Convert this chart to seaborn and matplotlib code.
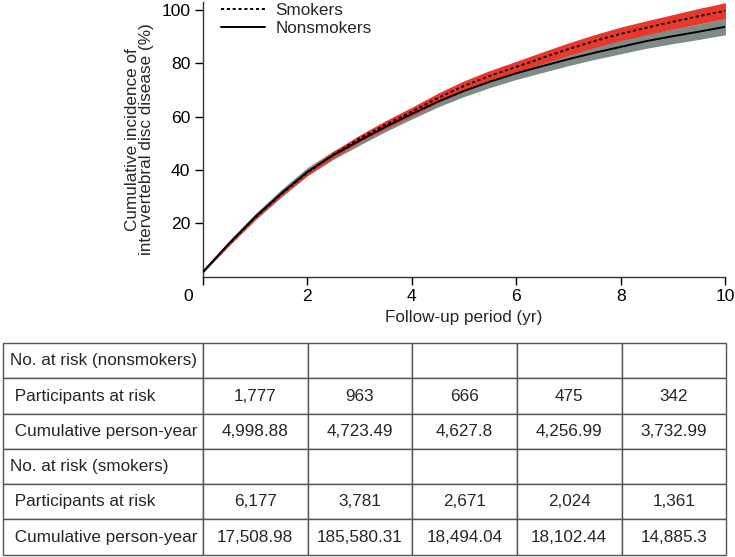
import matplotlib
matplotlib.use("Agg")
import matplotlib.pyplot as plt
import matplotlib.transforms as mtransforms
import pandas as pd
import seaborn as sns

# follow-up time (yr)
years = [0, 0.5, 1, 1.5, 2, 2.5, 3, 3.5, 4, 4.5, 5, 5.5, 6, 6.5, 7, 7.5, 8, 8.5, 9, 9.5, 10]

# cumulative incidence (%)
smokers = [1.8, 12.3, 22.2, 31.0, 39.0, 45.8, 51.8, 57.0, 61.9, 67.0, 71.5,
           75.3, 78.6, 82.0, 85.3, 88.3, 91.0, 93.3, 95.5, 97.6, 99.6]
smokers_lo = [1.5, 11.8, 21.5, 30.2, 38.0, 44.6, 50.5, 55.5, 60.3, 65.2, 69.6,
              73.3, 76.5, 79.8, 83.0, 85.9, 88.5, 90.7, 92.8, 94.7, 96.6]
smokers_hi = [2.1, 12.8, 22.9, 31.8, 40.0, 47.0, 53.1, 58.5, 63.5, 68.8, 73.4,
              77.3, 80.7, 84.2, 87.6, 90.7, 93.5, 95.9, 98.2, 100.5, 102.6]

nonsmokers = [1.8, 12.5, 22.4, 31.2, 39.3, 45.6, 51.0, 56.2, 61.0, 65.6, 69.6,
              73.1, 76.2, 78.9, 81.5, 83.9, 86.1, 88.3, 90.1, 91.8, 93.6]
nonsmokers_lo = [1.5, 11.6, 21.2, 29.8, 37.8, 44.0, 49.3, 54.4, 59.1, 63.6, 67.5,
                 70.9, 73.9, 76.5, 79.1, 81.4, 83.5, 85.6, 87.3, 88.9, 90.6]
nonsmokers_hi = [2.2, 13.4, 23.6, 32.7, 40.9, 47.2, 52.7, 58.0, 62.9, 67.6, 71.7,
                 75.3, 78.5, 81.3, 83.9, 86.4, 88.7, 91.0, 92.9, 94.7, 96.6]

# risk table
row_labels = ["No. at risk (nonsmokers)", " Participants at risk", " Cumulative person-year",
              "No. at risk (smokers)", " Participants at risk", " Cumulative person-year"]
ns_at_risk = ["1,777", "963", "666", "475", "342"]
ns_person_years = ["4,998.88", "4,723.49", "4,627.8", "4,256.99", "3,732.99"]
sm_at_risk = ["6,177", "3,781", "2,671", "2,024", "1,361"]
sm_person_years = ["17,508.98", "185,580.31", "18,494.04", "18,102.44", "14,885.3"]

RED = "#e8372c"
GREY = "#7f8b87"
FS = 12.3

sns.set_style("ticks")
plt.rcParams["font.family"] = ["Liberation Sans", "DejaVu Sans"]
plt.rcParams["font.size"] = FS

df = pd.DataFrame({
    "year": years * 2,
    "incidence": smokers + nonsmokers,
    "group": ["Smokers"] * len(years) + ["Nonsmokers"] * len(years),
})

fig = plt.figure(figsize=(7.35, 5.57), dpi=100)
ax = fig.add_axes([0.276, 0.503, 0.711, 0.494])

ax.fill_between(years, nonsmokers_lo, nonsmokers_hi, color=GREY, lw=0, zorder=1)
ax.fill_between(years, smokers_lo, smokers_hi, color=RED, lw=0, zorder=2)
sns.lineplot(data=df, x="year", y="incidence", hue="group", style="group",
             palette={"Smokers": "black", "Nonsmokers": "black"},
             dashes={"Smokers": (1.6, 1.4), "Nonsmokers": ""},
             linewidth=1.4, ax=ax, zorder=3)

ax.set_xlim(0, 10)
ax.set_ylim(0, 103)
ax.set_xticks([0, 2, 4, 6, 8, 10])
ax.set_yticks([20, 40, 60, 80, 100])
ax.tick_params(length=6, width=1, colors="black", labelsize=FS + 0.3, pad=3)
# the shared origin label sits a little left of the corner
offset = mtransforms.ScaledTranslation(-0.15, 0, fig.dpi_scale_trans)
ax.get_xticklabels()[0].set_transform(ax.get_xticklabels()[0].get_transform() + offset)
for s in ["left", "bottom"]:
    ax.spines[s].set_color("#333333")
    ax.spines[s].set_linewidth(1)
sns.despine(ax=ax)

ax.set_xlabel("Follow-up period (yr)", fontsize=FS, labelpad=4)
ax.set_ylabel("Cumulative incidence of\nintervertebral disc disease (%)", fontsize=FS,
              linespacing=0.95)
ax.yaxis.set_label_coords(-0.093, 0.5)

handles, labels = ax.get_legend_handles_labels()
ax.legend(handles, labels, loc="upper left", bbox_to_anchor=(0.005, 1.05), frameon=False,
          handlelength=2.6, handletextpad=0.6, labelspacing=0.15, fontsize=FS)

# table under the plot
tax = fig.add_axes([0.004, 0.004, 0.984, 0.38])
tax.axis("off")
blank = [""] * 5
cells = [blank, ns_at_risk, ns_person_years, blank, sm_at_risk, sm_person_years]
cell_text = [[lab] + row for lab, row in zip(row_labels, cells)]
first_w = 200 / 723
rest_w = (1 - first_w) / 5
table = tax.table(cellText=cell_text, colWidths=[first_w] + [rest_w] * 5,
                  bbox=[0, 0, 1, 1], cellLoc="center")
table.auto_set_font_size(False)
table.set_fontsize(FS)
for (r, c), cell in table.get_celld().items():
    cell.set_edgecolor("#555555")
    cell.set_linewidth(1)
    if c == 0:
        cell.get_text().set_ha("left")
        cell.PAD = 0.035

fig.savefig("out.png", dpi=100)
